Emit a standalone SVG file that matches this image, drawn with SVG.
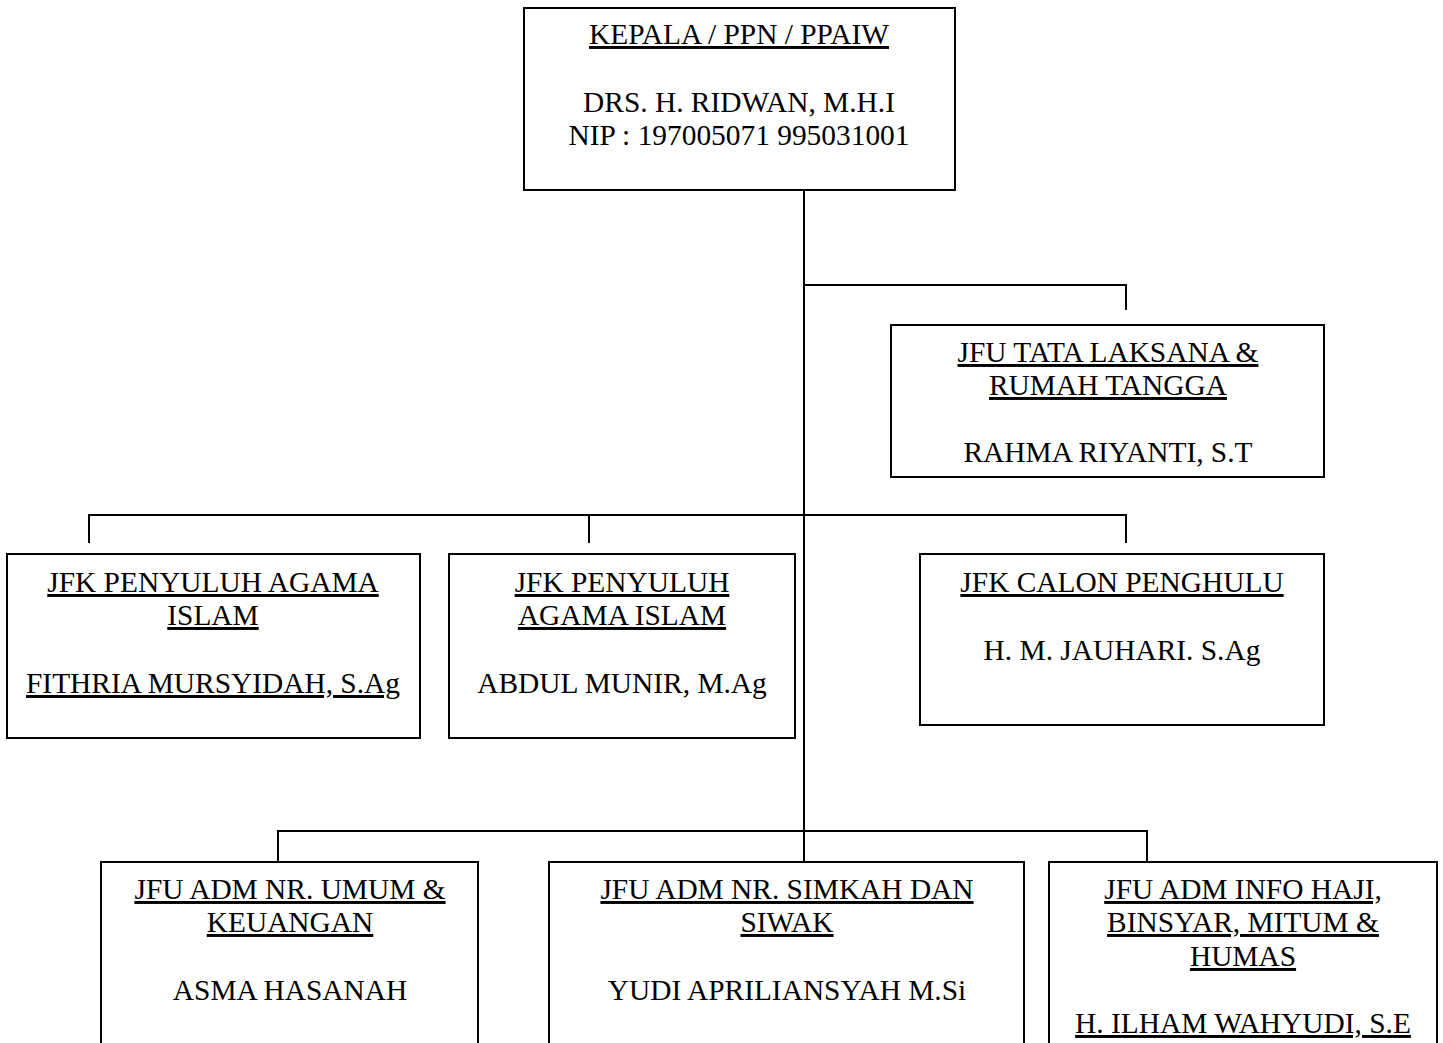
<svg xmlns="http://www.w3.org/2000/svg" width="1443" height="1043" viewBox="0 0 1443 1043">
<style>
.box{fill:#fff;stroke:#000;stroke-width:2}
.ln{fill:none;stroke:#000;stroke-width:2}
text{font-family:"Liberation Serif","Times New Roman",serif;font-size:29.4px;fill:#000;text-anchor:middle}
.u{text-decoration:underline}
</style>
<rect width="1443" height="1043" fill="#fff"/>
<g id="connectors">
<path class="ln" d="M804 190V862"/>
<path class="ln" d="M804 285H1126V310"/>
<path class="ln" d="M89 543V515H1126V543M589 515V543"/>
<path class="ln" d="M278 862V831H1147V862"/>
</g>
<g id="kepala">
<rect class="box" x="524" y="8" width="431" height="182"/>
<text x="739" y="44" class="u">KEPALA / PPN / PPAIW</text>
<text x="739" y="112">DRS. H. RIDWAN, M.H.I</text>
<text x="739" y="145">NIP : 197005071 995031001</text>
</g>
<g id="jfu-tata">
<rect class="box" x="891" y="325" width="433" height="152"/>
<text x="1108" y="362" class="u">JFU TATA LAKSANA &amp;</text>
<text x="1108" y="395" class="u">RUMAH TANGGA</text>
<text x="1108" y="462">RAHMA RIYANTI, S.T</text>
</g>
<g id="jfk-penyuluh-1">
<rect class="box" x="7" y="554" width="413" height="184"/>
<text x="213" y="592" class="u">JFK PENYULUH AGAMA</text>
<text x="213" y="625" class="u">ISLAM</text>
<text x="213" y="693" class="u">FITHRIA MURSYIDAH, S.Ag</text>
</g>
<g id="jfk-penyuluh-2">
<rect class="box" x="449" y="554" width="346" height="184"/>
<text x="622" y="592" class="u">JFK PENYULUH</text>
<text x="622" y="625" class="u">AGAMA ISLAM</text>
<text x="622" y="693">ABDUL MUNIR, M.Ag</text>
</g>
<g id="jfk-calon">
<rect class="box" x="920" y="554" width="404" height="171"/>
<text x="1122" y="592" class="u">JFK CALON PENGHULU</text>
<text x="1122" y="660">H. M. JAUHARI. S.Ag</text>
</g>
<g id="jfu-umum">
<rect class="box" x="101" y="862" width="377" height="200"/>
<text x="290" y="899" class="u">JFU ADM NR. UMUM &amp;</text>
<text x="290" y="932" class="u">KEUANGAN</text>
<text x="290" y="1000">ASMA HASANAH</text>
</g>
<g id="jfu-simkah">
<rect class="box" x="549" y="862" width="475" height="200"/>
<text x="787" y="899" class="u">JFU ADM NR. SIMKAH DAN</text>
<text x="787" y="932" class="u">SIWAK</text>
<text x="787" y="1000">YUDI APRILIANSYAH M.Si</text>
</g>
<g id="jfu-info">
<rect class="box" x="1049" y="862" width="388" height="200"/>
<text x="1243" y="899" class="u">JFU ADM INFO HAJI,</text>
<text x="1243" y="932" class="u">BINSYAR, MITUM &amp;</text>
<text x="1243" y="966" class="u">HUMAS</text>
<text x="1243" y="1033" class="u">H. ILHAM WAHYUDI, S.E</text>
</g>
</svg>
